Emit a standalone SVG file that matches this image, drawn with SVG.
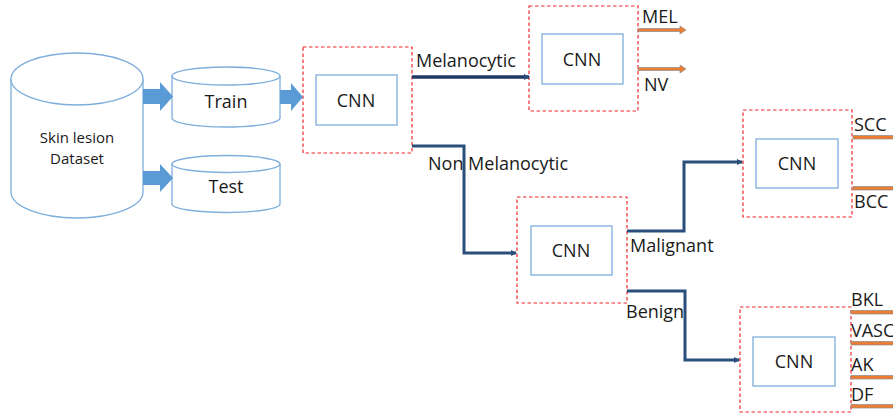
<svg xmlns="http://www.w3.org/2000/svg" width="893" height="416" viewBox="0 0 893 416">
<defs>
<style>
.cyl{fill:#fff;stroke:#7EAEDC;stroke-width:1.3}
.blk{fill:#5B9BD5}
.dash{fill:none;stroke:#F0282D;stroke-width:1.2;stroke-dasharray:3.5,2.5}
.inner{fill:#fff;stroke:#7EAEDC;stroke-width:1.3}
.t{font-family:"Open Sans","Liberation Sans",sans-serif;fill:#1a1a1a}
.lbl{font-size:18px}
.cnn{font-size:18px;text-anchor:middle}
.conn{fill:none;stroke:#2A4F7A;stroke-width:3}
.out{fill:#ED7D31;stroke:#8C8C8C;stroke-width:0.7}
</style>
<marker id="ah" markerWidth="6" markerHeight="6" refX="5" refY="3" orient="auto" markerUnits="userSpaceOnUse" viewBox="0 0 6 6">
<path d="M0,0 L6,3 L0,6 Z" fill="#2A4F7A"/>
</marker>
</defs>

<g id="dataset">
<path class="cyl" d="M11,79 A66,26 0 0 1 143,79 L143,192 A66,26 0 0 1 11,192 Z"/>
<path class="cyl" d="M11,79 A66,26 0 0 0 143,79"/>
<text class="t" x="77" y="143" font-size="15" text-anchor="middle">Skin lesion</text>
<text class="t" x="77" y="164" font-size="15" text-anchor="middle">Dataset</text>
</g>

<g id="train">
<path class="cyl" d="M172,76 A54,9 0 0 1 280,76 L280,118 A54,9 0 0 1 172,118 Z"/>
<path class="cyl" d="M172,76 A54,9 0 0 0 280,76"/>
<text class="t lbl" x="226" y="108" text-anchor="middle">Train</text>
</g>

<g id="test">
<path class="cyl" d="M172,164 A54,8.5 0 0 1 280,164 L280,204 A54,8.5 0 0 1 172,204 Z"/>
<path class="cyl" d="M172,164 A54,8.5 0 0 0 280,164"/>
<text class="t lbl" x="226" y="193" text-anchor="middle">Test</text>
</g>

<g id="cnn1">
<rect class="dash" x="303" y="47" width="109" height="106"/>
<rect class="inner" x="316" y="75" width="81" height="50"/>
<text class="t cnn" x="356" y="107">CNN</text>
</g>

<g id="cnn2">
<rect class="dash" x="529" y="6" width="109" height="105"/>
<rect class="inner" x="542" y="34" width="81" height="50"/>
<text class="t cnn" x="582" y="66">CNN</text>
</g>

<g id="cnn3">
<rect class="dash" x="517" y="197" width="110" height="106"/>
<rect class="inner" x="531" y="226" width="81" height="49"/>
<text class="t cnn" x="571" y="257">CNN</text>
</g>

<g id="cnn4">
<rect class="dash" x="743" y="110" width="109" height="107"/>
<rect class="inner" x="756" y="139" width="82" height="49"/>
<text class="t cnn" x="797" y="170">CNN</text>
</g>

<g id="cnn5">
<rect class="dash" x="740" y="307" width="111" height="105"/>
<rect class="inner" x="753" y="337" width="82" height="49"/>
<text class="t cnn" x="794" y="368">CNN</text>
</g>

<g id="connectors">
<polygon class="blk" points="143,89 160,89 160,82 173,96.5 160,111 160,104 143,104"/>
<polygon class="blk" points="143,171 160,171 160,164 173,178 160,192 160,185 143,185"/>
<polygon class="blk" points="280,90 291,90 291,83 303,97 291,111 291,104 280,104"/>

<line x1="412" y1="77" x2="529" y2="77" stroke="#1F3864" stroke-width="3.5" marker-end="url(#ah)"/>
<path class="conn" d="M412,146 H464 V253 H516" marker-end="url(#ah)"/>
<path class="conn" d="M627,231 H684 V162 H742" marker-end="url(#ah)"/>
<path class="conn" d="M627,291 H685 V360 H739" marker-end="url(#ah)"/>

<polygon class="out" points="638,28.5 680,28.5 680,26 686,30 680,34 680,31.5 638,31.5"/>
<polygon class="out" points="638,67.5 680,67.5 680,65 686,69 680,73 680,70.5 638,70.5"/>
<rect class="out" x="853" y="135.5" width="41" height="3.5"/>
<rect class="out" x="853" y="186.5" width="41" height="3.5"/>
<rect class="out" x="851" y="310.5" width="43" height="3.5"/>
<rect class="out" x="851" y="341.5" width="43" height="3.5"/>
<rect class="out" x="851" y="375.5" width="43" height="3.5"/>
<rect class="out" x="851" y="404.5" width="43" height="3.5"/>

<text class="t lbl" x="416" y="67">Melanocytic</text>
<text class="t lbl" x="428" y="170">Non Melanocytic</text>
<text class="t lbl" x="630" y="252">Malignant</text>
<text class="t lbl" x="626" y="318">Benign</text>
<text class="t lbl" x="642" y="23">MEL</text>
<text class="t lbl" x="644" y="91">NV</text>
<text class="t lbl" x="854" y="131">SCC</text>
<text class="t lbl" x="854" y="208">BCC</text>
<text class="t lbl" x="851" y="306">BKL</text>
<text class="t lbl" x="851" y="337">VASC</text>
<text class="t lbl" x="851" y="371">AK</text>
<text class="t lbl" x="851" y="401">DF</text>
</g>
</svg>
